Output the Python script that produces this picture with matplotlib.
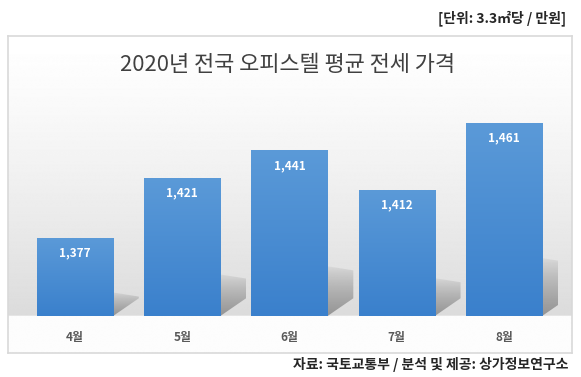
import numpy as np
import matplotlib
matplotlib.use("Agg")
import matplotlib.pyplot as plt
from matplotlib.patches import Polygon
from matplotlib.colors import LinearSegmentedColormap

plt.rcParams['font.family'] = ['Noto Sans CJK KR', 'DejaVu Sans']

months = ['4월', '5월', '6월', '7월', '8월']
values = [1377, 1421, 1441, 1412, 1461]
labels = ['1,377', '1,421', '1,441', '1,412', '1,461']
title = '2020년 전국 오피스텔 평균 전세 가격'
unit_text = '[단위: 3.3㎡당 / 만원]'
source_text = '자료: 국토교통부 / 분석 및 제공: 상가정보연구소'

W, H = 581, 377
fig = plt.figure(figsize=(W / 100, H / 100), dpi=100)
fig.patch.set_facecolor('white')

def fx(px):
    return px / W

def fy(py):
    return 1 - py / H

# panel background
pl, pt, pr, pb = 8, 36, 572, 353
bg = fig.add_axes([fx(pl), fy(pb), fx(pr - pl), fy(pt) - fy(pb)], zorder=0)
n = 400
ys = np.linspace(0, 1, n)
pix = pt + ys * (pb - pt)
col = np.ones(n)
base_px = 316
mask = pix <= base_px
col[mask] = 1.0 - 0.14 * ((pix[mask] - pt) / (base_px - pt)) ** 1.3
col[~mask] = 0.99
img = np.repeat(col[:, None], 2, axis=1)
bg.imshow(img, cmap='gray', vmin=0, vmax=1, aspect='auto', extent=[0, 1, 1, 0],
          interpolation='bilinear')
bg.set_xticks([]); bg.set_yticks([])
for s in bg.spines.values():
    s.set_color('#d9d9d9'); s.set_linewidth(1.2)

# chart axes
ymin, ymax = 1319.5, 1480
ax = fig.add_axes([fx(21.4), fy(316), fx(536.2), fy(97) - fy(316)], zorder=1)
ax.set_facecolor('none')
ax.set_xlim(-0.5, len(months) - 0.5)
ax.set_ylim(ymin, ymax)
ax.axis('off')

x = np.arange(len(months))
width = 0.71
bars = ax.bar(x, [v - ymin for v in values], bottom=ymin, width=width, color='#4a8dd4', zorder=3)

cmap = LinearSegmentedColormap.from_list('b', ['#5b9ad8', '#3a80cc'])
grad = np.linspace(0, 1, 256)[:, None]
shade = np.zeros((256, 2, 4))
shade[..., :3] = 0.55
shade[..., 3] = (0.1 + 0.8 * np.linspace(0.0, 1.0, 256)[:, None] ** 0.8)
for b in bars:
    x0, y0 = b.get_x(), b.get_y()
    w, h = b.get_width(), b.get_height()
    im = ax.imshow(grad, cmap=cmap, aspect='auto', extent=[x0, x0 + w, y0, y0 + h],
                   origin='upper', zorder=3.5)
    im.set_clip_path(b)
    # shadow cast to the back-right
    r = x0 + w
    dx = 0.24
    top = ymin + 0.3 * h
    poly = Polygon([(r, ymin), (r, top), (r + dx, top - 3), (r + dx, ymin + 13)],
                   closed=True, facecolor='none', edgecolor='none')
    ax.add_patch(poly)
    sim = ax.imshow(shade, aspect='auto', extent=[r, r + dx, ymin, top],
                    origin='upper', zorder=2, interpolation='bilinear')
    sim.set_clip_path(poly)

for xi, v, lab in zip(x, values, labels):
    ax.annotate(lab, (xi, v), xytext=(0, -11), textcoords='offset points',
                ha='center', va='center', color='white', fontsize=8.5,
                fontweight='bold', zorder=5)

for xi, m in zip(x, months):
    ax.annotate(m, (xi, ymin), xytext=(0, -15.5), textcoords='offset points',
                ha='center', va='center', color='#595959', fontsize=8.5,
                fontweight='bold', annotation_clip=False)

ax.set_xlim(-0.5, len(months) - 0.5)
ax.set_ylim(ymin, ymax)

fig.text(fx(288), fy(65), title, ha='center', va='center', fontsize=15.8, color='#404040')
fig.text(fx(566), fy(18), unit_text, ha='right', va='center', fontsize=10,
         fontweight='bold', color='#262626')
fig.text(fx(568), fy(365), source_text, ha='right', va='center', fontsize=10,
         fontweight='bold', color='#262626')

fig.savefig('out.png', dpi=100, facecolor='white')
